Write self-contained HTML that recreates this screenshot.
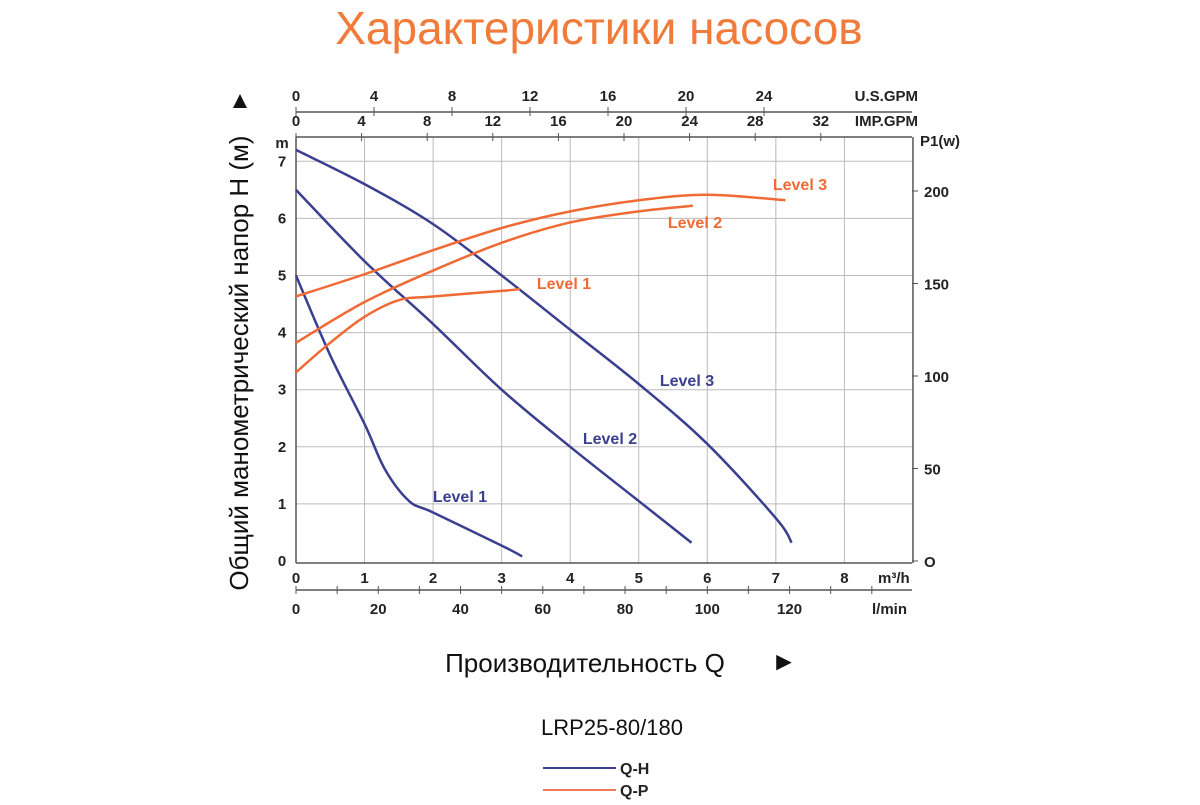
<!DOCTYPE html>
<html><head><meta charset="utf-8"><style>
body{margin:0;background:#fff;width:1200px;height:800px;overflow:hidden}
svg text{font-family:"Liberation Sans",Arial,sans-serif}
.b{font-weight:bold;font-size:15px;fill:#222}
</style></head><body>
<svg id="chart" width="1200" height="800">
<text x="599" y="44" text-anchor="middle" font-size="46" fill="#f07b3a">Характеристики насосов</text>
<g id="grid"></g>
<g id="axes"></g>
<g id="curves"></g>
<text transform="translate(248,363) rotate(-90)" text-anchor="middle" font-size="26" fill="#111">Общий манометрический напор H (м)</text>
<text x="240" y="108" text-anchor="middle" font-size="24" fill="#111">▲</text>
<text x="585" y="672" text-anchor="middle" font-size="26" fill="#111">Производительность Q</text>
<text x="784" y="670" text-anchor="middle" font-size="26" fill="#111">►</text>
<text x="612" y="735" text-anchor="middle" font-size="22" fill="#111">LRP25-80/180</text>
<line x1="543" y1="768" x2="616" y2="768" stroke="#3a3f8f" stroke-width="2"/>
<text x="620" y="774" font-size="16" font-weight="bold" fill="#222">Q-H</text>
<line x1="543" y1="790" x2="616" y2="790" stroke="#f07b5a" stroke-width="2"/>
<text x="620" y="796" font-size="16" font-weight="bold" fill="#222">Q-P</text>
</svg>
<script>
const qTicks=[0,1,2,3,4,5,6,7,8];
const hTicks=[0,1,2,3,4,5,6,7];
const pTicks=[0,50,100,150,200];
const lminTicks=[0,20,40,60,80,100,120];
const usTicks=[0,4,8,12,16,20,24];
const impTicks=[0,4,8,12,16,20,24,28,32];
const qh3Q=[0,1,2,3,4,5,6,7,7.23], qh3H=[7.2,6.6,5.9,5.0,4.05,3.1,2.05,0.75,0.32];
const qh2Q=[0,1,2,3,4,5,5.77], qh2H=[6.5,5.25,4.15,3.0,2.0,1.05,0.32];
const qh1Q=[0,0.5,1,1.3,1.65,2,3,3.3], qh1H=[5.0,3.6,2.4,1.6,1.05,0.85,0.27,0.08];
const qp3Q=[0,1,2,3,4,5,6,7.14], qp3P=[143,155,168,180,189,195,198,195];
const qp2Q=[0,1,2,3,4,5,5.79], qp2P=[118,140,157,172,183,189,192];
const qp1Q=[0,0.5,1,1.5,2,3,3.27], qp1P=[102,118,132,141,143,146,147];
const X=q=>296+q*68.55, Y=h=>561-h*57.1, YP=p=>561-p*1.85;
const NS='http://www.w3.org/2000/svg';
function mk(par,tag,at,txt){const e=document.createElementNS(NS,tag);for(const k in at)e.setAttribute(k,at[k]);if(txt!==undefined)e.textContent=txt;document.getElementById(par).appendChild(e);return e;}
for(let i=1;i<=9;i++){const l=mk('grid','line',{x1:X(i),x2:X(i),y1:137,y2:563,stroke:i==9?'#555':'#bbb','stroke-width':i==9?1.5:1});

}
for(let h=1;h<=7;h++){const l=mk('grid','line',{x1:296,x2:912,y1:Y(h),y2:Y(h),stroke:'#bbb'});

}
mk('axes','line',{x1:296,x2:912,y1:137,y2:137,stroke:'#555','stroke-width':1.5});
mk('axes','line',{x1:296,x2:296,y1:137,y2:563,stroke:'#555','stroke-width':1.5});
mk('axes','line',{x1:296,x2:912,y1:563,y2:563,stroke:'#555','stroke-width':1.5});
hTicks.forEach(h=>{const t=mk('axes','text',{x:282,y:Y(h)+5,'text-anchor':'middle',class:'b'},h);

});
mk('axes','text',{x:282,y:148,'text-anchor':'middle',class:'b'},'m');
pTicks.forEach(p=>{mk('axes','line',{x1:912,x2:918,y1:YP(p),y2:YP(p),stroke:'#555'});const t=mk('axes','text',{x:924,y:YP(p)+6,class:'b'},p==0?'O':p);

});
mk('axes','text',{x:920,y:146,class:'b'},'P1(w)');
qTicks.forEach(q=>{const t=mk('axes','text',{x:X(q),y:583,'text-anchor':'middle',class:'b'},q);

});
mk('axes','text',{x:878,y:583,class:'b'},'m³/h');
mk('axes','line',{x1:296,x2:912,y1:590,y2:590,stroke:'#555','stroke-width':1.5});
for(let v=0;v<=140;v+=10)mk('axes','line',{x1:X(v*0.06),x2:X(v*0.06),y1:586,y2:594,stroke:'#555'});
lminTicks.forEach(v=>{const t=mk('axes','text',{x:X(v*0.06),y:614,'text-anchor':'middle',class:'b'},v);

});
mk('axes','text',{x:872,y:614,class:'b'},'l/min');
mk('axes','line',{x1:296,x2:912,y1:112,y2:112,stroke:'#555','stroke-width':1.5});
usTicks.forEach(v=>{const x=296+v*19.5;mk('axes','line',{x1:x,x2:x,y1:107,y2:116,stroke:'#555'});const t=mk('axes','text',{x:x,y:101,'text-anchor':'middle',class:'b'},v);

});
mk('axes','text',{x:918,y:101,'text-anchor':'end',class:'b'},'U.S.GPM');
impTicks.forEach(v=>{const x=296+v*16.4;mk('axes','line',{x1:x,x2:x,y1:133,y2:141,stroke:'#555'});const t=mk('axes','text',{x:x,y:126,'text-anchor':'middle',class:'b'},v);

});
mk('axes','text',{x:918,y:126,'text-anchor':'end',class:'b'},'IMP.GPM');
function path(xs,ys,fy){let d='';const P=xs.map((q,i)=>[X(q),fy(ys[i])]);d='M'+P[0];
for(let i=0;i<P.length-1;i++){const p0=P[i-1]||P[i],p1=P[i],p2=P[i+1],p3=P[i+2]||p2;
const c1=[p1[0]+(p2[0]-p0[0])/6,p1[1]+(p2[1]-p0[1])/6],c2=[p2[0]-(p3[0]-p1[0])/6,p2[1]-(p3[1]-p1[1])/6];d+='C'+c1+' '+c2+' '+p2;}return d;}
const blue='#3a3f8f',orng='#f06a35';
[[qh3Q,qh3H,'qh-level-3'],[qh2Q,qh2H,'qh-level-2'],[qh1Q,qh1H,'qh-level-1']].forEach(s=>{const p=mk('curves','path',{d:path(s[0],s[1],Y),fill:'none',stroke:blue,'stroke-width':2.5});

});
[[qp3Q,qp3P,'qp-level-3'],[qp2Q,qp2P,'qp-level-2'],[qp1Q,qp1P,'qp-level-1']].forEach(s=>{const p=mk('curves','path',{d:path(s[0],s[1],YP),fill:'none',stroke:orng,'stroke-width':2.5});

});
[[800,190,orng,'Level 3'],[695,228,orng,'Level 2'],[564,289,orng,'Level 1'],[687,386,blue,'Level 3'],[610,444,blue,'Level 2'],[460,502,blue,'Level 1']].forEach(l=>{const t=mk('curves','text',{x:l[0],y:l[1],'text-anchor':'middle','font-size':16,'font-weight':'bold',fill:l[2]},l[3]);

});
</script>
</body></html>
